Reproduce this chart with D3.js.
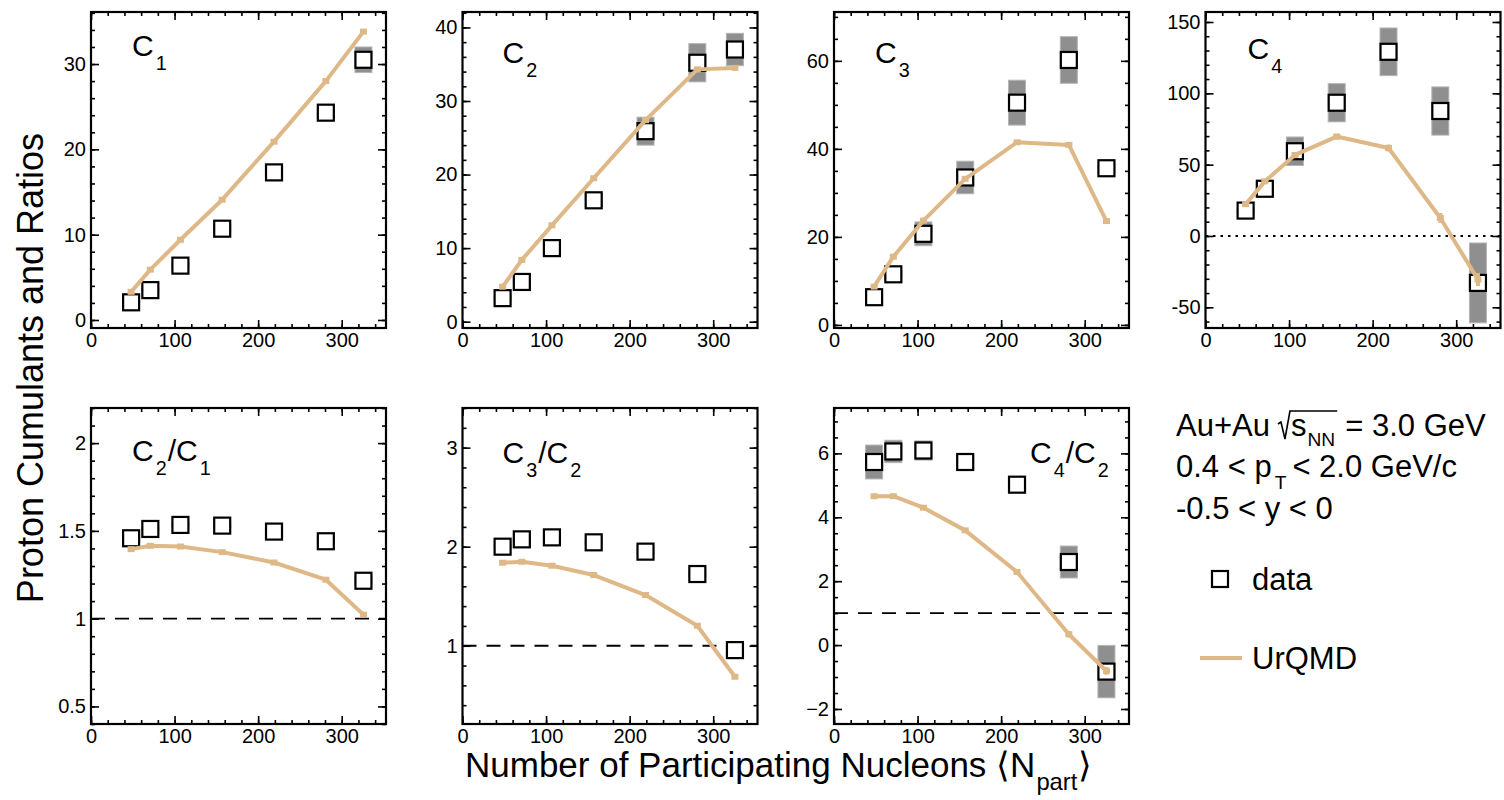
<!DOCTYPE html>
<html><head><meta charset="utf-8">
<script src="https://cdn.jsdelivr.net/npm/d3@7"></script>
<style>
body{margin:0;background:#fff}
svg text{font-family:"Liberation Sans",Arial,Helvetica,sans-serif;fill:#000}
</style>
</head><body>
<svg id="chart" width="1504" height="800"></svg>
<script>
// ---------------- DATA ----------------
const npart = [48, 71, 107, 157, 219, 281, 326];
const xTicks = [0, 100, 200, 300];

const c1Data   = [2.07, 3.5, 6.37, 10.7, 17.3, 24.3, 30.5];
const c1Sys    = [0.2, 0.2, 0.3, 0.4, 0.5, 0.6, 1.5];
const c1Urqmd  = [3.3, 5.9, 9.4, 14.1, 20.9, 28.0, 33.8];
const c1Ticks  = [0, 10, 20, 30];

const c2Data   = [3.2, 5.4, 10.0, 16.5, 25.9, 35.2, 37.0];
const c2Sys    = [0.3, 0.4, 0.6, 0.9, 1.9, 2.6, 2.2];
const c2Urqmd  = [4.75, 8.4, 13.1, 19.5, 27.4, 34.3, 34.5];
const c2Ticks  = [0, 10, 20, 30, 40];

const c3Data   = [6.3, 11.5, 20.7, 33.5, 50.5, 60.2, 35.6];
const c3Sys    = [0.6, 0.9, 2.7, 3.7, 5.1, 5.3, 1.0];
const c3Urqmd  = [8.7, 15.5, 23.7, 33.2, 41.5, 40.9, 23.6];
const c3Ticks  = [0, 20, 40, 60];

const c4Data   = [17.8, 33.1, 59.4, 93.4, 129.1, 87.6, -32.9];
const c4Sys    = [2, 3, 10, 13.4, 16.7, 16.9, 28];
const c4Urqmd  = [22.3, 38.3, 56.8, 69.7, 61.7, 12.6, -30.5];
const c4UrqmdErr = [1.5, 1.5, 2, 2, 2.5, 3.5, 4.5];
const c4Ticks  = [-50, 0, 50, 100, 150];

const r21Data  = [1.458, 1.511, 1.534, 1.530, 1.496, 1.441, 1.216];
const r21Sys   = [0.01, 0.01, 0.01, 0.01, 0.01, 0.015, 0.02];
const r21Urqmd = [1.396, 1.415, 1.411, 1.379, 1.320, 1.222, 1.023];
const r21Ticks = [0.5, 1, 1.5, 2];

const r32Data  = [2.0, 2.074, 2.094, 2.044, 1.95, 1.724, 0.956];
const r32Sys   = [0.02, 0.02, 0.02, 0.02, 0.03, 0.03, 0.03];
const r32Urqmd = [1.838, 1.848, 1.808, 1.714, 1.512, 1.202, 0.687];
const r32Ticks = [1, 2, 3];

const r42Data  = [5.73, 6.06, 6.09, 5.73, 5.02, 2.60, -0.83];
const r42Sys   = [0.53, 0.35, 0.3, 0.2, 0.12, 0.5, 0.82];
const r42Urqmd = [4.66, 4.66, 4.30, 3.59, 2.29, 0.34, -0.81];
const r42UrqmdErr = [0.04, 0.04, 0.05, 0.05, 0.07, 0.1, 0.12];
const r42Ticks = [-2, 0, 2, 4, 6];

const panelLabels = [["C", "1"], ["C", "2"], ["C", "3"], ["C", "4"],
                     ["C", "2", "/C", "1"], ["C", "3", "/C", "2"], ["C", "4", "/C", "2"]];
const legendLines = ["Au+Au", "= 3.0 GeV", "0.4 < p", "T", "< 2.0 GeV/c", "-0.5 < y < 0"];
const seriesNames = ["data", "UrQMD"];
const yTitle = "Proton Cumulants and Ratios";
const xTitle = "Number of Participating Nucleons";

// ---------------- LAYOUT ----------------
const svg = d3.select("#chart");
const W = 295, H = 316;
const colLeft = [91, 462.5, 834, 1205.5];
const rowTop = [12, 408];
const xDomain = [0, 353];
const urColor = "#deb887";
const FONT = '"Liberation Sans",Arial,Helvetica,sans-serif';

const panels = [
  {data: c1Data, sys: c1Sys, ur: c1Urqmd, ticks: c1Ticks, dom: [-0.94, 36.1], minor: 2, row: 0, col: 0, lab: [41, 44]},
  {data: c2Data, sys: c2Sys, ur: c2Urqmd, ticks: c2Ticks, dom: [-0.86, 42.1], minor: 2, row: 0, col: 1, lab: [40, 51]},
  {data: c3Data, sys: c3Sys, ur: c3Urqmd, ticks: c3Ticks, dom: [-0.7, 71.1], minor: 5, row: 0, col: 2, lab: [41, 51]},
  {data: c4Data, sys: c4Sys, ur: c4Urqmd, urErr: c4UrqmdErr, ticks: c4Ticks, dom: [-64.5, 157], minor: 10, row: 0, col: 3, lab: [42, 47], ref: 0, refDash: "2.5,5", fmt: d => d < 0 ? "-" + Math.abs(d) : String(d)},
  {data: r21Data, sys: r21Sys, ur: r21Urqmd, ticks: r21Ticks, dom: [0.4, 2.2], minor: 0.1, row: 1, col: 0, lab: [41, 53], ref: 1},
  {data: r32Data, sys: r32Sys, ur: r32Urqmd, ticks: r32Ticks, dom: [0.21, 3.4], minor: 0.2, row: 1, col: 1, lab: [40, 55], ref: 1},
  {data: r42Data, sys: r42Sys, ur: r42Urqmd, urErr: r42UrqmdErr, ticks: r42Ticks, dom: [-2.47, 7.42], minor: 0.5, row: 1, col: 2, lab: [196, 55], ref: 1, fmt: d => d < 0 ? "\u2212" + Math.abs(d) : String(d)}
];

function rich(g, x, y, parts, fs, subScale, subDrop, gap) {
  let cx = x;
  parts.forEach((t, i) => {
    const isSub = i % 2 === 1;
    const size = isSub ? fs * subScale : fs;
    if (isSub) cx += gap;
    const el = g.append("text").attr("x", cx).attr("y", y + (isSub ? fs * subDrop : 0))
      .attr("font-size", size).text(t);
    cx += el.node().getComputedTextLength();
    if (isSub) cx += gap * 0.5;
  });
  return cx;
}

function range(a, b, step) {
  const out = [];
  const n = Math.round((b - a) / step);
  for (let i = 0; i <= n; i++) out.push(+(a + i * step).toFixed(6));
  return out;
}

panels.forEach((p, idx) => {
  const left = colLeft[p.col], top = rowTop[p.row];
  const x = d3.scaleLinear().domain(xDomain).range([left, left + W]);
  const y = d3.scaleLinear().domain(p.dom).range([top + H, top]);
  const g = svg.append("g");

  const clipId = "clip" + idx;
  svg.append("clipPath").attr("id", clipId).append("rect")
    .attr("x", left).attr("y", top).attr("width", W).attr("height", H);
  const plot = g.append("g").attr("clip-path", `url(#${clipId})`);

  if (p.ref !== undefined) {
    plot.append("line").attr("x1", left).attr("x2", left + W)
      .attr("y1", y(p.ref)).attr("y2", y(p.ref))
      .attr("stroke", "#000").attr("stroke-width", p.refDash ? 2 : 1.8)
      .attr("stroke-dasharray", p.refDash || "14,10");
  }

  const pts = npart.map((n, i) => ({n, v: p.data[i], e: p.sys[i], u: p.ur[i], ue: p.urErr ? p.urErr[i] : 0}));

  // systematic boxes
  plot.selectAll("rect.sys").data(pts).join("rect").attr("class", "sys")
    .attr("x", d => x(d.n) - 8.5).attr("width", 17)
    .attr("y", d => y(d.v + d.e)).attr("height", d => y(d.v - d.e) - y(d.v + d.e))
    .attr("fill", "#8f8f8f").attr("stroke", "#b5b5b5").attr("stroke-width", 1);

  // data squares
  plot.selectAll("rect.pt").data(pts).join("rect").attr("class", "pt")
    .attr("x", d => x(d.n) - 8).attr("y", d => y(d.v) - 8)
    .attr("width", 16).attr("height", 16)
    .attr("fill", "#fff").attr("stroke", "#000").attr("stroke-width", 2.2);

  // UrQMD
  const line = d3.line().x(d => x(d.n)).y(d => y(d.u));
  plot.append("path").datum(pts).attr("d", line).attr("fill", "none")
    .attr("stroke", urColor).attr("stroke-width", 4).attr("stroke-linejoin", "round");
  plot.selectAll("line.ue").data(pts.filter(d => d.ue > 0)).join("line").attr("class", "ue")
    .attr("x1", d => x(d.n)).attr("x2", d => x(d.n))
    .attr("y1", d => y(d.u + d.ue)).attr("y2", d => y(d.u - d.ue))
    .attr("stroke", urColor).attr("stroke-width", 4);
  plot.selectAll("rect.um").data(pts).join("rect").attr("class", "um")
    .attr("x", d => x(d.n) - 3.5).attr("y", d => y(d.u) - 3)
    .attr("width", 7).attr("height", 6).attr("fill", urColor);

  // axes
  const styleAxis = a => {
    a.select(".domain").remove();
    a.selectAll("line").attr("stroke", "#000").attr("stroke-width", 1.6);
    a.selectAll("text").attr("font-size", 20).attr("font-family", FONT).attr("fill", "#000");
  };
  const xMinor = range(0, 340, 20);
  const yMinor = range(Math.ceil(p.dom[0] / p.minor) * p.minor, Math.floor(p.dom[1] / p.minor) * p.minor, p.minor);

  g.append("g").attr("transform", `translate(0,${top + H})`)
    .call(d3.axisBottom(x).tickValues(xTicks).tickSize(-8).tickPadding(5).tickFormat(d3.format("d"))).call(styleAxis);
  g.append("g").attr("transform", `translate(0,${top + H})`)
    .call(d3.axisBottom(x).tickValues(xMinor).tickSize(-4).tickFormat("")).call(styleAxis);
  g.append("g").attr("transform", `translate(0,${top})`)
    .call(d3.axisTop(x).tickValues(xTicks).tickSize(-8).tickFormat("")).call(styleAxis);
  g.append("g").attr("transform", `translate(0,${top})`)
    .call(d3.axisTop(x).tickValues(xMinor).tickSize(-4).tickFormat("")).call(styleAxis);

  g.append("g").attr("transform", `translate(${left},0)`)
    .call(d3.axisLeft(y).tickValues(p.ticks).tickSize(-8).tickPadding(5).tickFormat(p.fmt || (d => String(d)))).call(styleAxis);
  g.append("g").attr("transform", `translate(${left},0)`)
    .call(d3.axisLeft(y).tickValues(yMinor).tickSize(-4).tickFormat("")).call(styleAxis);
  g.append("g").attr("transform", `translate(${left + W},0)`)
    .call(d3.axisRight(y).tickValues(p.ticks).tickSize(-8).tickFormat("")).call(styleAxis);
  g.append("g").attr("transform", `translate(${left + W},0)`)
    .call(d3.axisRight(y).tickValues(yMinor).tickSize(-4).tickFormat("")).call(styleAxis);

  // frame
  g.append("rect").attr("x", left).attr("y", top).attr("width", W).attr("height", H)
    .attr("fill", "none").attr("stroke", "#000").attr("stroke-width", 2.2);

  // panel label
  rich(g, left + p.lab[0], top + p.lab[1], panelLabels[idx], 30, 0.66, 0.45, 2);
});

// y title
svg.append("text").attr("transform", "translate(43,368) rotate(-90)")
  .attr("text-anchor", "middle").attr("font-size", 36).text(yTitle);

// x title
{
  const g = svg.append("g");
  const fs = 35;
  const t = g.append("text").attr("x", 465).attr("y", 777).attr("font-size", fs).text(xTitle + " \u27E8");
  let cx = 465 + t.node().getComputedTextLength();
  const n = g.append("text").attr("x", cx).attr("y", 777).attr("font-size", fs).text("N");
  cx += n.node().getComputedTextLength() + 1;
  const s = g.append("text").attr("x", cx).attr("y", 777 + 13).attr("font-size", fs * 0.68).text("part");
  cx += s.node().getComputedTextLength() + 1;
  g.append("text").attr("x", cx).attr("y", 777).attr("font-size", fs).text("\u27E9");
}

// legend text
{
  const g = svg.append("g");
  const fs = 31, x0 = 1176;
  const y1 = 436, y2 = 477, y3 = 519;
  const a = g.append("text").attr("x", x0).attr("y", y1).attr("font-size", fs).text(legendLines[0]);
  let cx = x0 + a.node().getComputedTextLength() + 8;
  const rx = cx;
  const s = g.append("text").attr("x", cx + 13).attr("y", y1).attr("font-size", fs).text("s");
  let ex = cx + 13 + s.node().getComputedTextLength();
  const nn = g.append("text").attr("x", ex + 1).attr("y", y1 + 10).attr("font-size", fs * 0.62).text("NN");
  ex += 1 + nn.node().getComputedTextLength() + 2;
  g.append("path").attr("d", `M${rx},${y1 - 12} L${rx + 3},${y1 - 14} L${rx + 7},${y1 + 3} L${rx + 12},${y1 - 25} L${ex},${y1 - 25}`)
    .attr("fill", "none").attr("stroke", "#000").attr("stroke-width", 1.6);
  g.append("text").attr("x", ex + 8).attr("y", y1).attr("font-size", fs).text(legendLines[1]);

  const b = g.append("text").attr("x", x0).attr("y", y2).attr("font-size", fs).text(legendLines[2]);
  cx = x0 + b.node().getComputedTextLength() + 3;
  const tt = g.append("text").attr("x", cx).attr("y", y2 + 12).attr("font-size", fs * 0.62).text(legendLines[3]);
  cx += tt.node().getComputedTextLength() + 6;
  g.append("text").attr("x", cx).attr("y", y2).attr("font-size", fs).text(legendLines[4]);

  g.append("text").attr("x", x0).attr("y", y3).attr("font-size", fs).text(legendLines[5]);

  g.append("rect").attr("x", 1212).attr("y", 571).attr("width", 16).attr("height", 16)
    .attr("fill", "#fff").attr("stroke", "#000").attr("stroke-width", 2.2);
  g.append("text").attr("x", 1252).attr("y", 590).attr("font-size", fs).text(seriesNames[0]);
  g.append("line").attr("x1", 1200).attr("x2", 1242).attr("y1", 658).attr("y2", 658)
    .attr("stroke", urColor).attr("stroke-width", 4);
  g.append("text").attr("x", 1252).attr("y", 669).attr("font-size", fs).text(seriesNames[1]);
}
</script>
</body></html>
